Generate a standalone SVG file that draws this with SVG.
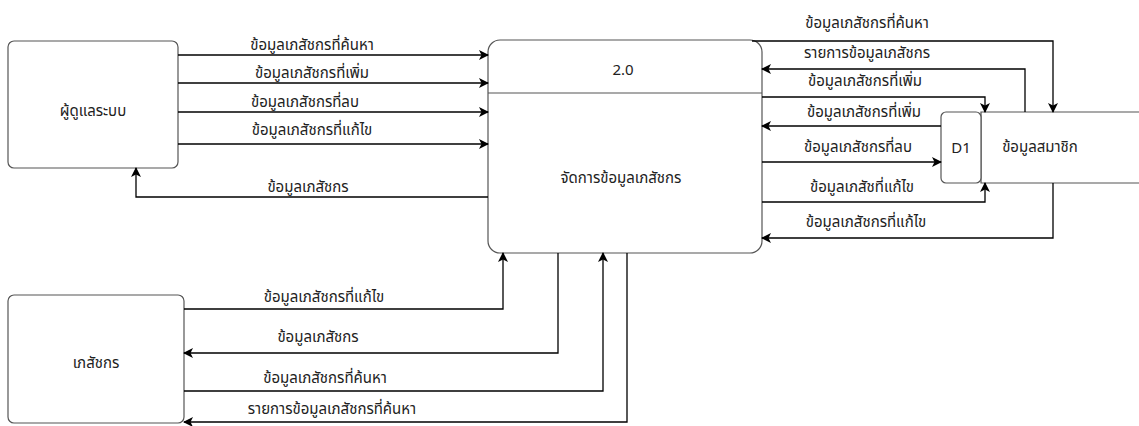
<svg xmlns="http://www.w3.org/2000/svg" width="1139" height="426" viewBox="0 0 1139 426">
<defs>
<marker id="ar" markerWidth="10" markerHeight="10" refX="9" refY="5" orient="auto" markerUnits="userSpaceOnUse">
<path d="M0,0 L10,5 L0,10 L2.5,5 Z" fill="#000"/>
</marker>
</defs>
<style>
text{font-family:"Noto Sans Thai","Noto Sans","DejaVu Sans",sans-serif;font-size:15px;fill:#222;text-anchor:middle;dominant-baseline:central}
.box{fill:#fff;stroke:#555;stroke-width:1.2}
.c{fill:none;stroke:#000;stroke-width:1.3;marker-end:url(#ar)}
</style>
<rect width="1139" height="426" fill="#fff"/>
<g id="admin">
<rect class="box" x="8" y="41" width="170" height="127" rx="6"/>
<text x="93" y="111">ผู้ดูแลระบบ</text>
</g>
<g id="pharmacist">
<rect class="box" x="8" y="295" width="176" height="128" rx="6"/>
<text x="96" y="363">เภสัชกร</text>
</g>
<g id="process">
<rect class="box" x="488" y="40" width="274" height="213" rx="12"/>
<line x1="488" y1="93" x2="762" y2="93" stroke="#555" stroke-width="1.2"/>
<text x="623" y="70">2.0</text>
<text x="621" y="178">จัดการข้อมูลเภสัชกร</text>
</g>
<g id="datastore">
<path d="M1139,112 H981 V183 H1139" fill="#fff" stroke="#555" stroke-width="1.2"/>
<rect class="box" x="941" y="112" width="40" height="71" rx="5"/>
<text x="961" y="148">D1</text>
<text x="1040" y="147">ข้อมูลสมาชิก</text>
</g>
<g id="connectors">
<path class="c" d="M178,55 H488"/>
<path class="c" d="M178,83 H488"/>
<path class="c" d="M178,112 H488"/>
<path class="c" d="M178,144 H488"/>
<path class="c" d="M488,197 H136 V168"/>
<path class="c" d="M184,309 H503 V253"/>
<path class="c" d="M558,253 V353 H184"/>
<path class="c" d="M184,391 H603 V253"/>
<path class="c" d="M627,253 V422 H184"/>
<path class="c" d="M752,41 H1053 V112"/>
<path class="c" d="M1025,112 V69 H762"/>
<path class="c" d="M762,97 H985 V112"/>
<path class="c" d="M941,126 H762"/>
<path class="c" d="M762,162 H941"/>
<path class="c" d="M762,202 H985 V183"/>
<path class="c" d="M1053,183 V238 H762"/>
</g>
<g id="labels">
<text x="312" y="45">ข้อมูลเภสัชกรที่ค้นหา</text>
<text x="312" y="73">ข้อมูลเภสัชกรที่เพิ่ม</text>
<text x="305" y="102">ข้อมูลเภสัชกรที่ลบ</text>
<text x="312" y="130">ข้อมูลเภสัชกรที่แก้ไข</text>
<text x="308" y="187">ข้อมูลเภสัชกร</text>
<text x="324" y="297">ข้อมูลเภสัชกรที่แก้ไข</text>
<text x="318" y="337">ข้อมูลเภสัชกร</text>
<text x="325" y="378">ข้อมูลเภสัชกรที่ค้นหา</text>
<text x="332" y="409">รายการข้อมูลเภสัชกรที่ค้นหา</text>
<text x="867" y="23">ข้อมูลเภสัชกรที่ค้นหา</text>
<text x="867" y="53">รายการข้อมูลเภสัชกร</text>
<text x="865" y="81">ข้อมูลเภสัชกรที่เพิ่ม</text>
<text x="864" y="112">ข้อมูลเภสัชกรที่เพิ่ม</text>
<text x="858" y="147">ข้อมูลเภสัชกรที่ลบ</text>
<text x="862" y="187">ข้อมูลเภสัชที่แก้ไข</text>
<text x="866" y="222">ข้อมูลเภสัชกรที่แก้ไข</text>
</g>
</svg>
